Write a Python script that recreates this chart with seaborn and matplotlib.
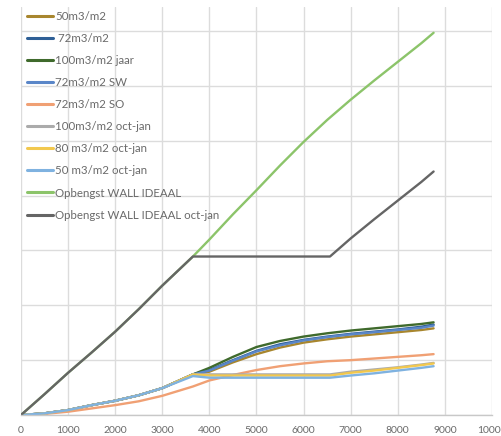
import numpy as np
import pandas as pd
import seaborn as sns
import matplotlib
matplotlib.use("Agg")
import matplotlib.pyplot as plt

# Cumulative yield per hour of the year (y in grid units)
x_early = [0, 500, 1000, 1500, 2000, 2500, 3000, 3650]
x_late = [4000, 4500, 5000, 5500, 6000, 6500, 7000, 7500, 8000, 8500, 8760]
x_octjan = [4000, 5000, 6000, 6560, 7000, 7500, 8000, 8500, 8760]

base_early = [0, 0.03, 0.09, 0.18, 0.26, 0.36, 0.49, 0.74]
so_early = [0, 0.02, 0.06, 0.12, 0.18, 0.25, 0.35, 0.52]

y_50 = [0.79, 0.96, 1.11, 1.23, 1.32, 1.38, 1.43, 1.47, 1.51, 1.55, 1.58]
y_72 = [0.82, 1.00, 1.17, 1.29, 1.37, 1.43, 1.48, 1.52, 1.56, 1.61, 1.65]
y_100 = [0.86, 1.06, 1.24, 1.35, 1.43, 1.49, 1.54, 1.58, 1.62, 1.66, 1.69]
y_72sw = [0.81, 0.99, 1.16, 1.27, 1.36, 1.42, 1.47, 1.51, 1.55, 1.59, 1.63]
y_72so = [0.63, 0.73, 0.82, 0.89, 0.94, 0.98, 1.00, 1.03, 1.06, 1.09, 1.11]
y_100oj = [0.74, 0.74, 0.74, 0.74, 0.79, 0.83, 0.87, 0.92, 0.95]
y_80oj = [0.72, 0.72, 0.72, 0.72, 0.77, 0.81, 0.86, 0.91, 0.94]
y_50oj = [0.68, 0.68, 0.68, 0.68, 0.72, 0.76, 0.81, 0.86, 0.89]

x_wall = [0, 500, 1000, 1500, 2000, 2500, 3000, 3650, 4000, 4500, 5000,
          5500, 6000, 6500, 7000, 7500, 8000, 8500, 8760]
y_wall = [0, 0.38, 0.77, 1.14, 1.52, 1.93, 2.36, 2.89, 3.20, 3.66, 4.10,
          4.55, 4.98, 5.38, 5.75, 6.10, 6.44, 6.78, 6.97]
x_wall_oj = [0, 500, 1000, 1500, 2000, 2500, 3000, 3650, 6560, 7000, 7500,
             8000, 8500, 8760]
y_wall_oj = [0, 0.38, 0.77, 1.14, 1.52, 1.93, 2.36, 2.89, 2.89, 3.22, 3.57,
             3.91, 4.25, 4.44]

labels = ["50m3/m2", " 72m3/m2", "100m3/m2 jaar", "72m3/m2 SW", "72m3/m2 SO",
          "100m3/m2 oct-jan", "80 m3/m2 oct-jan", "50 m3/m2 oct-jan",
          "Opbengst WALL IDEAAL", "Opbengst WALL IDEAAL oct-jan"]
colors = ["#a8862e", "#2e5f96", "#3f6a2c", "#5a86c8", "#f0a074",
          "#ababab", "#f2c84e", "#7fb2e0", "#8cc46a", "#656565"]

series = {
    labels[0]: (x_early + x_late, base_early + y_50),
    labels[1]: (x_early + x_late, base_early + y_72),
    labels[2]: (x_early + x_late, base_early + y_100),
    labels[3]: (x_early + x_late, base_early + y_72sw),
    labels[4]: (x_early + x_late, so_early + y_72so),
    labels[5]: (x_early + x_octjan, base_early + y_100oj),
    labels[6]: (x_early + x_octjan, base_early + y_80oj),
    labels[7]: (x_early + x_octjan, base_early[:-1] + [0.71] + y_50oj),
    labels[8]: (x_wall, y_wall),
    labels[9]: (x_wall_oj, y_wall_oj),
}

frames = []
for name, (xs, ys) in series.items():
    frames.append(pd.DataFrame({"uur": xs, "opbrengst": ys, "serie": name}))
df = pd.concat(frames, ignore_index=True)

sns.set_theme(style="white")
plt.rcParams["font.family"] = ["Lato", "DejaVu Sans"]

fig = plt.figure(figsize=(5.02, 4.36), dpi=100)
ax = fig.add_axes([21 / 502, 21 / 436, 471 / 502, 408 / 436])

sns.lineplot(data=df, x="uur", y="opbrengst", hue="serie", hue_order=labels,
             palette=dict(zip(labels, colors)), linewidth=1.7,
             errorbar=None, sort=False, ax=ax)

ax.set_xlim(0, 10000)
ax.set_ylim(0, 7.44)
ax.set_xticks(np.arange(0, 10001, 1000))
ax.set_yticks(np.arange(0, 8, 1))
ax.set_yticklabels([])
ax.set_xlabel("")
ax.set_ylabel("")
ax.grid(True, color="#dcdcdc", linewidth=1.0)
ax.set_axisbelow(True)
for side in ["top", "right", "left"]:
    ax.spines[side].set_visible(False)
ax.spines["bottom"].set_color("#c8c8c8")
ax.spines["bottom"].set_linewidth(1.0)
ax.tick_params(axis="x", length=0, pad=8, labelsize=7.5, labelcolor="#6a6a6a")
ax.tick_params(axis="y", length=0)

handles, lbls = ax.get_legend_handles_labels()
leg = ax.legend(handles, lbls, loc="upper left",
                bbox_to_anchor=(27 / 502, 1 - 11 / 436),
                bbox_transform=fig.transFigure, frameon=False,
                fontsize=8.3, handlelength=2.25, handletextpad=0.17,
                labelspacing=0.96, borderaxespad=0, borderpad=0)
for t in leg.get_texts():
    t.set_color("#6a6a6a")
for h in leg.get_lines():
    h.set_linewidth(2.2)

fig.savefig("out.png", dpi=100)
